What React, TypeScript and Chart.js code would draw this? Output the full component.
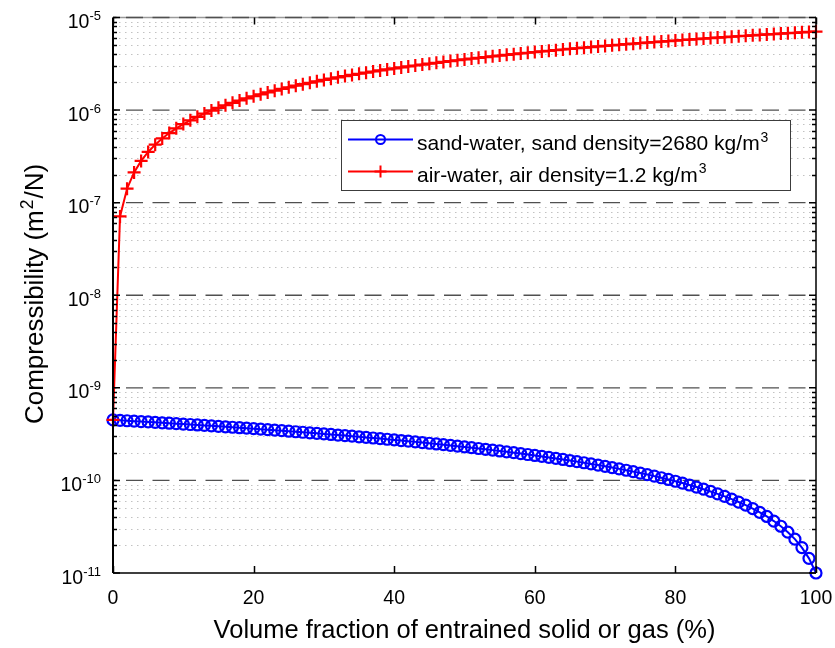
import React, { useEffect, useRef } from 'react';
import { Chart, registerables } from 'chart.js';

Chart.register(...registerables);

// ---------- data ----------
const volumeFraction = [
  0, 1, 2, 3, 4, 5, 6, 7, 8, 9,
  10, 11, 12, 13, 14, 15, 16, 17, 18, 19,
  20, 21, 22, 23, 24, 25, 26, 27, 28, 29,
  30, 31, 32, 33, 34, 35, 36, 37, 38, 39,
  40, 41, 42, 43, 44, 45, 46, 47, 48, 49,
  50, 51, 52, 53, 54, 55, 56, 57, 58, 59,
  60, 61, 62, 63, 64, 65, 66, 67, 68, 69,
  70, 71, 72, 73, 74, 75, 76, 77, 78, 79,
  80, 81, 82, 83, 84, 85, 86, 87, 88, 89,
  90, 91, 92, 93, 94, 95, 96, 97, 98, 99,
  100,
];

const sandWater = [
  4.5e-10, 4.456e-10, 4.412e-10, 4.368e-10, 4.324e-10, 4.28e-10, 4.236e-10, 4.192e-10, 4.148e-10, 4.104e-10,
  4.06e-10, 4.016e-10, 3.972e-10, 3.928e-10, 3.884e-10, 3.84e-10, 3.796e-10, 3.752e-10, 3.708e-10, 3.664e-10,
  3.62e-10, 3.576e-10, 3.532e-10, 3.488e-10, 3.444e-10, 3.4e-10, 3.356e-10, 3.312e-10, 3.268e-10, 3.224e-10,
  3.18e-10, 3.136e-10, 3.092e-10, 3.048e-10, 3.004e-10, 2.96e-10, 2.916e-10, 2.872e-10, 2.828e-10, 2.784e-10,
  2.74e-10, 2.696e-10, 2.652e-10, 2.608e-10, 2.564e-10, 2.52e-10, 2.476e-10, 2.432e-10, 2.388e-10, 2.344e-10,
  2.3e-10, 2.256e-10, 2.212e-10, 2.168e-10, 2.124e-10, 2.08e-10, 2.036e-10, 1.992e-10, 1.948e-10, 1.904e-10,
  1.86e-10, 1.816e-10, 1.772e-10, 1.728e-10, 1.684e-10, 1.64e-10, 1.596e-10, 1.552e-10, 1.508e-10, 1.464e-10,
  1.42e-10, 1.376e-10, 1.332e-10, 1.288e-10, 1.244e-10, 1.2e-10, 1.156e-10, 1.112e-10, 1.068e-10, 1.024e-10,
  9.8e-11, 9.36e-11, 8.92e-11, 8.48e-11, 8.04e-11, 7.6e-11, 7.16e-11, 6.72e-11, 6.28e-11, 5.84e-11,
  5.4e-11, 4.96e-11, 4.52e-11, 4.08e-11, 3.64e-11, 3.2e-11, 2.76e-11, 2.32e-11, 1.88e-11, 1.44e-11,
  1.0e-11,
];

const airWater = [
  4.5e-10, 7.1e-8, 1.415e-7, 2.12e-7, 2.825e-7, 3.53e-7, 4.235e-7, 4.94e-7, 5.645e-7, 6.35e-7,
  7.055e-7, 7.76e-7, 8.465e-7, 9.17e-7, 9.875e-7, 1.058e-6, 1.128e-6, 1.199e-6, 1.269e-6, 1.34e-6,
  1.41e-6, 1.481e-6, 1.551e-6, 1.622e-6, 1.692e-6, 1.763e-6, 1.833e-6, 1.904e-6, 1.974e-6, 2.045e-6,
  2.115e-6, 2.186e-6, 2.256e-6, 2.327e-6, 2.397e-6, 2.468e-6, 2.538e-6, 2.609e-6, 2.679e-6, 2.75e-6,
  2.82e-6, 2.891e-6, 2.961e-6, 3.032e-6, 3.102e-6, 3.173e-6, 3.243e-6, 3.314e-6, 3.384e-6, 3.455e-6,
  3.525e-6, 3.596e-6, 3.666e-6, 3.737e-6, 3.807e-6, 3.878e-6, 3.948e-6, 4.019e-6, 4.089e-6, 4.16e-6,
  4.23e-6, 4.301e-6, 4.371e-6, 4.442e-6, 4.512e-6, 4.583e-6, 4.653e-6, 4.724e-6, 4.794e-6, 4.865e-6,
  4.935e-6, 5.006e-6, 5.076e-6, 5.147e-6, 5.217e-6, 5.288e-6, 5.358e-6, 5.429e-6, 5.499e-6, 5.57e-6,
  5.64e-6, 5.711e-6, 5.781e-6, 5.852e-6, 5.922e-6, 5.993e-6, 6.063e-6, 6.134e-6, 6.204e-6, 6.275e-6,
  6.345e-6, 6.416e-6, 6.486e-6, 6.557e-6, 6.627e-6, 6.698e-6, 6.768e-6, 6.839e-6, 6.909e-6, 6.98e-6,
  7.05e-6,
];

const xTicks = [0, 20, 40, 60, 80, 100];
const yExponents = [-11, -10, -9, -8, -7, -6, -5];
const minorMultipliers = [2, 3, 4, 5, 6, 7, 8, 9];

const legendLabels = ['sand-water, sand density=2680 kg/m', 'air-water, air density=1.2 kg/m'];
const legendSups = ['3', '3'];
const xTitle = 'Volume fraction of entrained solid or gas (%)';
const yTitleParts = ['Compressibility (m', '2', '/N)'];

const FONT = '"Liberation Sans", Arial, Helvetica, sans-serif';
const BLUE = '#0000ff';
const RED = '#ff0000';

function font(size: number) {
  return `${size}px ${FONT}`;
}

const decor = {
  id: 'matlabDecor',
  beforeDatasetsDraw(chart: any) {
    const { ctx, chartArea: a, scales } = chart;
    const ys = scales.y;
    ctx.save();
    // minor dotted grid
    ctx.strokeStyle = '#c2c2c2';
    ctx.lineWidth = 1;
    ctx.setLineDash([1.5, 4.5]);
    for (let i = 0; i < yExponents.length - 1; i++) {
      for (const m of minorMultipliers) {
        const y = Math.round(ys.getPixelForValue(m * Math.pow(10, yExponents[i]))) + 0.5;
        ctx.beginPath();
        ctx.moveTo(a.left, y);
        ctx.lineTo(a.right, y);
        ctx.stroke();
      }
    }
    // top box line (light)
    ctx.setLineDash([]);
    ctx.strokeStyle = '#9a9a9a';
    ctx.lineWidth = 1.5;
    ctx.beginPath();
    ctx.moveTo(a.left, a.top);
    ctx.lineTo(a.right, a.top);
    ctx.stroke();
    // major dashed grid
    ctx.strokeStyle = '#505050';
    ctx.lineWidth = 1.3;
    ctx.setLineDash([17, 9.5]);
    ctx.lineDashOffset = 13.5;
    for (let i = 1; i < yExponents.length; i++) {
      const y = ys.getPixelForValue(Math.pow(10, yExponents[i]));
      ctx.beginPath();
      ctx.moveTo(a.left, y);
      ctx.lineTo(a.right, y);
      ctx.stroke();
    }
    ctx.restore();
  },
  afterDatasetsDraw(chart: any) {
    const { ctx, chartArea: a, scales } = chart;
    const xs = scales.x;
    const ys = scales.y;
    ctx.save();
    ctx.setLineDash([]);
    ctx.strokeStyle = '#000';
    // axes
    ctx.lineWidth = 2;
    ctx.beginPath();
    ctx.moveTo(a.left, a.top);
    ctx.lineTo(a.left, a.bottom);
    ctx.stroke();
    ctx.lineWidth = 1.5;
    ctx.beginPath();
    ctx.moveTo(a.left, a.bottom);
    ctx.lineTo(a.right, a.bottom);
    ctx.moveTo(a.right, a.bottom);
    ctx.lineTo(a.right, a.top);
    ctx.stroke();

    // y ticks (inward, both sides)
    ctx.lineWidth = 1.5;
    for (let i = 0; i < yExponents.length; i++) {
      const y = ys.getPixelForValue(Math.pow(10, yExponents[i]));
      ctx.beginPath();
      ctx.moveTo(a.left, y);
      ctx.lineTo(a.left + 7, y);
      ctx.moveTo(a.right, y);
      ctx.lineTo(a.right - 7, y);
      ctx.stroke();
      if (i < yExponents.length - 1) {
        for (const m of minorMultipliers) {
          const ym = Math.round(ys.getPixelForValue(m * Math.pow(10, yExponents[i]))) + 0.5;
          ctx.beginPath();
          ctx.moveTo(a.left, ym);
          ctx.lineTo(a.left + 4, ym);
          ctx.moveTo(a.right, ym);
          ctx.lineTo(a.right - 4, ym);
          ctx.stroke();
        }
      }
    }
    // x ticks (inward, bottom and top)
    for (const t of xTicks) {
      const x = Math.round(xs.getPixelForValue(t)) + 0.5;
      ctx.beginPath();
      ctx.moveTo(x, a.bottom);
      ctx.lineTo(x, a.bottom - 7);
      ctx.moveTo(x, a.top);
      ctx.lineTo(x, a.top + 7);
      ctx.stroke();
    }

    ctx.fillStyle = '#000';
    // y tick labels 10^n
    const rightEdge = a.left - 12;
    for (const e of yExponents) {
      const y = ys.getPixelForValue(Math.pow(10, e));
      const sup = String(e);
      ctx.font = font(13);
      const ws = ctx.measureText(sup).width;
      ctx.font = font(19.5);
      const wm = ctx.measureText('10').width;
      ctx.textAlign = 'left';
      ctx.textBaseline = 'alphabetic';
      ctx.fillText('10', rightEdge - ws - wm, y + 10.5);
      ctx.font = font(13);
      ctx.fillText(sup, rightEdge - ws, y + 2.5);
    }
    // x tick labels
    ctx.font = font(19.5);
    ctx.textAlign = 'center';
    ctx.textBaseline = 'alphabetic';
    for (const t of xTicks) {
      ctx.fillText(String(t), xs.getPixelForValue(t), 604);
    }
    // x title
    ctx.font = font(25.5);
    ctx.fillText(xTitle, (a.left + a.right) / 2, 638);

    // y title (rotated)
    {
      const f = 26;
      const fs = 17.5;
      ctx.font = font(f);
      const w1 = ctx.measureText(yTitleParts[0]).width;
      const w3 = ctx.measureText(yTitleParts[2]).width;
      ctx.font = font(fs);
      const w2 = ctx.measureText(yTitleParts[1]).width + 2;
      const total = w1 + w2 + w3;
      ctx.save();
      ctx.translate(43, 294);
      ctx.rotate(-Math.PI / 2);
      ctx.textAlign = 'left';
      let x = -total / 2;
      ctx.font = font(f);
      ctx.fillText(yTitleParts[0], x, 0);
      x += w1;
      ctx.font = font(fs);
      ctx.fillText(yTitleParts[1], x + 1, -10.5);
      x += w2;
      ctx.font = font(f);
      ctx.fillText(yTitleParts[2], x, 0);
      ctx.restore();
    }

    // legend
    {
      const bx = 341.5, by = 120.5, bw = 449, bh = 70;
      ctx.fillStyle = '#fff';
      ctx.fillRect(bx, by, bw, bh);
      ctx.strokeStyle = '#3c3c3c';
      ctx.lineWidth = 1;
      ctx.strokeRect(bx, by, bw, bh);
      const rows = [
        { color: BLUE, base: 150, lineY: 139.5, marker: 'circle' },
        { color: RED, base: 181.5, lineY: 171.5, marker: 'cross' },
      ];
      rows.forEach((r, i) => {
        ctx.strokeStyle = r.color;
        ctx.lineWidth = 2;
        ctx.beginPath();
        ctx.moveTo(348, r.lineY);
        ctx.lineTo(413, r.lineY);
        ctx.stroke();
        const mx = 380.5;
        ctx.beginPath();
        if (r.marker === 'circle') {
          ctx.arc(mx, r.lineY, 4.5, 0, Math.PI * 2);
        } else {
          ctx.moveTo(mx, r.lineY - 6);
          ctx.lineTo(mx, r.lineY + 6);
          ctx.moveTo(mx - 6, r.lineY);
          ctx.lineTo(mx + 6, r.lineY);
        }
        ctx.stroke();
        ctx.fillStyle = '#000';
        ctx.textAlign = 'left';
        ctx.font = font(21);
        ctx.fillText(legendLabels[i], 417, r.base);
        const w = ctx.measureText(legendLabels[i]).width;
        ctx.font = font(14);
        ctx.fillText(legendSups[i], 417 + w + 1, r.base - 8.5);
      });
    }
    ctx.restore();
  },
};

export default function App() {
  const ref = useRef<HTMLCanvasElement | null>(null);
  useEffect(() => {
    document.body.style.margin = '0';
    const canvas = ref.current;
    if (!canvas) return;
    const chart = new Chart(canvas, {
      type: 'line',
      data: {
        datasets: [
          {
            label: 'air-water, air density=1.2 kg/m3',
            data: volumeFraction.map((x, i) => ({ x, y: airWater[i] })),
            borderColor: RED,
            backgroundColor: 'transparent',
            borderWidth: 2,
            pointStyle: 'cross',
            pointRadius: 6.5,
            pointBorderWidth: 2.2,
            pointBorderColor: RED,
            pointBackgroundColor: 'transparent',
            fill: false,
            tension: 0,
            clip: false,
            order: 1,
          },
          {
            label: 'sand-water, sand density=2680 kg/m3',
            data: volumeFraction.map((x, i) => ({ x, y: sandWater[i] })),
            borderColor: BLUE,
            backgroundColor: 'transparent',
            borderWidth: 2,
            pointStyle: 'circle',
            pointRadius: 5.5,
            pointBorderWidth: 2.2,
            pointBorderColor: BLUE,
            pointBackgroundColor: 'transparent',
            fill: false,
            tension: 0,
            clip: false,
            order: 2,
          },
        ],
      },
      options: {
        responsive: false,
        animation: false,
        events: [],
        layout: { padding: { left: 113, right: 19, top: 17.5, bottom: 75 } },
        scales: {
          x: { type: 'linear', min: 0, max: 100, display: false },
          y: { type: 'logarithmic', min: 1e-11, max: 1e-5, display: false },
        },
        plugins: {
          legend: { display: false },
          tooltip: { enabled: false },
          title: { display: false },
        },
      } as any,
      plugins: [decor as any],
    });
    return () => chart.destroy();
  }, []);
  return (
    <div style={{ position: 'fixed', left: 0, top: 0, width: 835, height: 648, background: '#fff' }}>
      <canvas ref={ref} width={835} height={648} style={{ display: 'block' }} />
    </div>
  );
}
